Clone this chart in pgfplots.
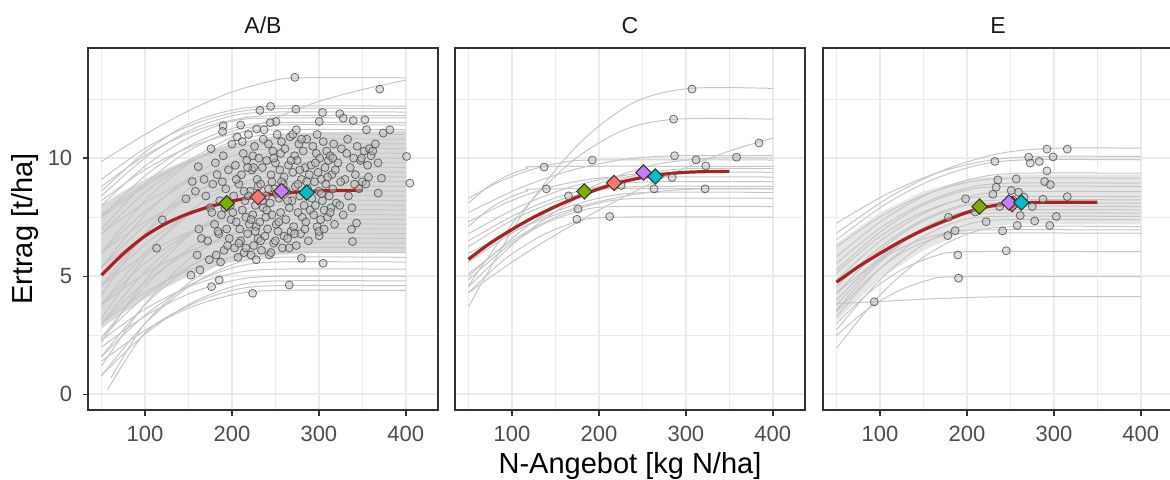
\documentclass[border=0pt]{standalone}
\usepackage{fontspec}
\setmainfont{Liberation Sans}
\usepackage{pgfplots}
\pgfplotsset{compat=1.18}
\definecolor{gridc}{HTML}{EBEBEB}
\definecolor{framec}{HTML}{333333}
\definecolor{tickc}{HTML}{4D4D4D}
\definecolor{stripc}{HTML}{1A1A1A}
\definecolor{curvec}{HTML}{C6C6C6}
\definecolor{bandc}{HTML}{D9D9D9}
\definecolor{bandlc}{HTML}{E6E6E6}
\definecolor{fitc}{HTML}{A82424}
\definecolor{ggreen}{HTML}{7CAE00}
\definecolor{gred}{HTML}{F8766D}
\definecolor{gpurple}{HTML}{C77CFF}
\definecolor{gcyan}{HTML}{00BFC4}

\pgfplotsset{
  facet/.style={
    scale only axis, width=175pt, height=181pt,
    xmin=34.5, xmax=437, ymin=-0.66, ymax=14.66,
    xtick={100,200,300,400}, ytick={0,5,10},
    minor xtick={50,150,250,350}, minor ytick={2.5,7.5,12.5},
    grid=both,
    major grid style={gridc, line width=1pt},
    minor grid style={gridc, line width=0.5pt},
    axis line style={framec, line width=0.7pt},
    tick align=outside, xtick pos=lower, ytick pos=left,
    major tick length=2.75pt, minor tick length=0pt,
    tick style={framec, line width=0.7pt},
    /pgf/number format/assume math mode=true,
    tick label style={font=\fontsize{11}{13}\selectfont, text=tickc},
    xticklabel style={yshift=-2pt},
    yticklabel style={xshift=-1.6pt},
    anchor=south west,
  },
  gc/.style={curvec, line width=0.5pt, smooth, tension=0.5, forget plot},
  pts/.style={only marks, mark=*, mark size=2pt, forget plot,
    mark options={fill=black!25, fill opacity=0.5, draw=black!75, draw opacity=0.75, line width=0.4pt}},
  fit/.style={fitc, line width=1.6pt, smooth, tension=0.5, forget plot},
  dia/.style={only marks, mark=square*, mark size=2.7pt, forget plot,
    mark options={rotate=45, fill=#1, draw=black!80, line width=0.5pt}},
}
% one grey site curve: values at N = 50,100,150,200 and the plateau from 250 on
\newcommand{\gc}[5]{\addplot[gc] coordinates {(50,#1)(100,#2)(150,#3)(200,#4)(250,#5)(400,#5)};}

\begin{document}
\begin{tikzpicture}
% ---------------- A/B ----------------
\begin{axis}[facet, at={(44pt,34.5pt)}]
\addplot[fill=bandc, draw=none, forget plot] coordinates
  {(50,8.0)(75,8.6)(100,9.1)(125,9.55)(150,9.95)(175,10.3)(200,10.6)(250,10.95)(300,11.1)(400,11.15)
   (400,6.0)(300,6.0)(250,5.9)(200,5.6)(175,5.35)(150,5.0)(125,4.55)(100,4.05)(75,3.45)(50,2.8)};
\gc{1.4}{2.71}{3.65}{4.21}{4.4}
\addplot[gc] coordinates {(57,0.2)(100,2.6)(150,3.75)(200,4.4)(250,4.6)(400,4.6)};
\gc{0.8}{2.55}{3.8}{4.55}{4.8}
\gc{2.0}{3.31}{4.25}{4.81}{5.0}
\gc{2.3}{3.61}{4.55}{5.11}{5.3}
\gc{1.6}{3.35}{4.6}{5.35}{5.6}
\gc{0.8}{2.99}{4.55}{5.49}{5.8}
\gc{3.0}{4.31}{5.25}{5.81}{6.0}
\addplot[gc] coordinates {(61,0.7)(100,3.0)(150,4.7)(200,5.82)(250,6.2)(400,6.2)};
\gc{2.4}{4.15}{5.4}{6.15}{6.4}
\gc{1.6}{3.79}{5.35}{6.29}{6.6}
\gc{3.8}{5.11}{6.05}{6.61}{6.8}
\gc{3.0}{4.75}{6.0}{6.75}{7.0}
\gc{1.2}{3.82}{5.7}{6.82}{7.2}
\gc{2.4}{4.59}{6.15}{7.09}{7.4}
\gc{4.6}{5.91}{6.85}{7.41}{7.6}
\gc{3.8}{5.55}{6.8}{7.55}{7.8}
\gc{3.0}{5.19}{6.75}{7.69}{8.0}
\gc{2.2}{4.82}{6.7}{7.82}{8.2}
\gc{5.4}{6.71}{7.65}{8.21}{8.4}
\gc{4.6}{6.35}{7.6}{8.35}{8.6}
\gc{3.8}{5.99}{7.55}{8.49}{8.8}
\gc{6.0}{7.31}{8.25}{8.81}{9.0}
\gc{3.2}{5.82}{7.7}{8.82}{9.2}
\gc{5.4}{7.15}{8.4}{9.15}{9.4}
\gc{4.6}{6.79}{8.35}{9.29}{9.6}
\gc{6.8}{8.11}{9.05}{9.61}{9.8}
\gc{6.0}{7.75}{9.0}{9.75}{10.0}
\gc{4.2}{6.82}{8.7}{9.82}{10.2}
\gc{5.4}{7.59}{9.15}{10.09}{10.4}
\gc{7.6}{8.91}{9.85}{10.41}{10.6}
\gc{6.8}{8.55}{9.8}{10.55}{10.8}
\gc{6.0}{8.19}{9.75}{10.69}{11.0}
\gc{8.2}{9.51}{10.45}{11.01}{11.2}
\gc{7.0}{8.92}{10.3}{11.13}{11.4}
\gc{7.5}{9.25}{10.5}{11.25}{11.5}
\gc{8.0}{9.66}{10.85}{11.56}{11.7}
\gc{8.8}{10.11}{11.05}{11.61}{11.8}
\gc{8.4}{10.0}{11.15}{11.79}{11.95}
\gc{9.1}{10.41}{11.35}{11.91}{12.1}
\gc{8.6}{10.25}{11.45}{12.03}{12.2}
\addplot[gc] coordinates {(50,9.85)(100,11.0)(150,12.0)(200,12.8)(250,13.3)(280,13.4)(400,13.4)};
\addplot[gc] coordinates {(50,7.5)(100,8.8)(150,9.9)(200,10.9)(250,11.7)(300,12.4)(350,12.9)(400,13.3)};
\addplot[pts] coordinates {
 (272.4,13.42)(370,12.92)(232.2,12.02)(244.5,12.19)(273.6,12.07)(304.2,11.93)(324.1,11.88)(328,11.69)
 (339.5,11.59)(352.9,11.62)(354.8,11.2)(381.6,11.2)(373.9,11.06)(190,11.37)(189.3,11.13)(228.4,11.23)
 (250.6,11.55)(300.4,11.55)(400.8,10.07)(404.6,8.94)(368.2,8.52)(372,9.15)(113.4,6.19)(119.9,7.39)
 (147.1,8.28)(154.4,9.01)(161.3,9.64)(152.9,5.05)(163.2,5.27)(176.6,4.56)(185.4,4.84)(223.8,4.28)
 (265.9,4.63)(280,5.76)(304.9,5.55)(300.4,6.71)(338.7,6.47)(337.5,6.99)(343.3,7.25)
 (172,6.5)(175,7.9)(178,8.9)(180,7.2)(182,5.9)(183,9.3)(185,6.8)(186,8.2)(188,7.6)(190,10.1)
 (191,6.1)(193,8.7)(194,7.0)(196,9.5)(197,6.6)(198,8.0)(199,7.4)(200,10.6)(168,9.1)(170,8.4)
 (174,5.7)(177,7.7)(181,9.8)(187,5.6)(189,9.0)(192,7.9)(195,6.3)(165,6.6)(162,7.0)(160,5.9)
 (158,8.6)(176,10.4)(184,6.9)
 (202,8.4)(203,6.2)(204,9.7)(205,7.3)(206,10.9)(207,5.8)(208,8.9)(209,7.0)(210,6.5)(211,9.3)
 (212,7.8)(213,10.2)(214,6.0)(215,8.2)(216,7.5)(217,9.9)(218,6.8)(219,11.0)(220,7.2)(221,8.6)
 (222,5.9)(223,9.5)(224,7.6)(225,6.3)(226,10.5)(227,8.0)(228,7.1)(229,9.1)(230,6.6)(201,7.7)
 (205,9.1)(208,6.4)(212,10.7)(216,6.2)(219,8.4)(222,7.4)(225,9.6)(228,5.7)(230,8.8)(210,11.4)
 (214,8.6)(218,9.6)(224,10.1)(227,6.9)
 (231,10.0)(232,7.3)(233,8.9)(234,6.1)(235,9.6)(236,7.9)(237,11.2)(238,6.7)(239,8.4)(240,9.9)
 (241,7.0)(242,10.6)(243,5.9)(244,8.1)(245,9.3)(246,7.6)(247,10.3)(248,6.4)(249,8.7)(250,9.8)
 (251,7.2)(252,11.0)(253,6.9)(254,8.3)(255,9.5)(256,7.7)(257,10.7)(258,6.2)(259,8.9)(260,9.2)
 (233,6.5)(236,10.8)(239,7.5)(242,8.7)(245,6.0)(248,10.0)(251,8.5)(254,7.3)(257,9.0)(260,6.7)
 (235,8.2)(244,11.5)(250,6.5)(256,10.2)(240,7.8)(246,9.0)
 (261,10.4)(262,7.4)(263,8.6)(264,6.6)(265,9.7)(266,7.9)(267,10.9)(268,6.9)(269,8.2)(270,9.4)
 (271,7.1)(272,10.1)(273,8.8)(274,6.3)(275,9.9)(276,7.7)(277,10.6)(278,8.4)(279,6.8)(280,9.1)
 (281,7.5)(282,10.3)(283,8.0)(284,9.6)(285,7.3)(286,10.8)(287,8.7)(288,6.5)(289,9.3)(290,7.8)
 (264,8.2)(268,9.9)(272,6.8)(276,8.9)(280,10.8)(284,7.0)(288,8.5)(270,11.0)(278,9.5)(286,9.0)
 (266,6.2)(274,11.2)
 (291,9.7)(292,8.3)(293,10.5)(294,7.6)(295,9.0)(296,8.0)(297,10.2)(298,7.1)(299,9.4)(300,8.6)
 (301,10.0)(302,7.4)(303,9.1)(304,8.2)(305,10.7)(306,7.8)(307,9.6)(308,8.9)(309,10.3)(310,7.5)
 (311,9.9)(312,8.4)(313,10.1)(314,7.9)(315,9.3)(316,8.7)(317,10.6)(318,7.2)(319,9.5)(320,8.1)
 (296,9.8)(303,8.5)(310,9.2)(316,10.0)(300,6.9)(306,7.0)(313,7.7)(298,11.0)
 (322,9.8)(324,8.0)(326,10.4)(328,7.6)(330,9.1)(332,10.2)(334,8.4)(336,9.6)(338,7.9)(340,10.0)
 (342,9.3)(344,10.5)(346,8.7)(348,9.9)(350,9.0)(352,10.3)(354,8.9)(356,9.7)(358,10.4)(360,10.1)
 (325,9.0)(333,10.8)(341,8.9)(349,10.0)(357,9.2)(362,10.3)(365,10.6)(368,9.8)
};
\addplot[fit] coordinates {(50,5.05)(75,5.95)(100,6.7)(125,7.25)(150,7.65)(175,7.95)(200,8.18)
  (225,8.35)(250,8.48)(275,8.56)(300,8.61)(325,8.63)(350,8.64)};
\addplot[dia=ggreen] coordinates {(194,8.09)};
\addplot[dia=gred] coordinates {(230,8.35)};
\addplot[dia=gpurple] coordinates {(257,8.61)};
\addplot[dia=gcyan] coordinates {(286,8.54)};
\end{axis}

% ---------------- C ----------------
\begin{axis}[facet, at={(227.5pt,34.5pt)}, yticklabels={}, ytick style={draw=none}]
\addplot[gc] coordinates {(50,3.7)(114,7.75)(178,10.64)(241,12.37)(305,12.95)(400,12.95)};
\addplot[gc] coordinates {(50,4.6)(110,7.68)(170,9.89)(230,11.21)(290,11.65)(400,11.65)};
\addplot[gc] coordinates {(50,4.3)(100,5.6)(150,6.75)(200,7.8)(250,8.75)(300,9.6)(350,10.3)(400,10.85)};
\addplot[gc] coordinates {(50,8.3)(86,9.01)(123,9.52)(159,9.82)(195,9.92)(400,9.92)};
\addplot[gc] coordinates {(50,8.1)(72,8.78)(95,9.26)(117,9.55)(140,9.65)(400,9.65)};
\addplot[gc] coordinates {(50,7.7)(110,8.75)(170,9.5)(230,9.95)(290,10.1)(400,10.1)};
\addplot[gc] coordinates {(50,5.0)(120,7.19)(190,8.75)(260,9.69)(330,10.0)(400,10.0)};
\addplot[gc] coordinates {(50,7.3)(95,8.13)(140,8.73)(185,9.08)(230,9.2)(400,9.2)};
\addplot[gc] coordinates {(50,7.1)(72,7.8)(95,8.3)(117,8.6)(140,8.7)(400,8.7)};
\addplot[gc] coordinates {(50,6.8)(108,7.94)(165,8.75)(223,9.24)(280,9.4)(400,9.4)};
\addplot[gc] coordinates {(50,6.5)(103,7.59)(155,8.38)(208,8.84)(260,9.0)(400,9.0)};
\addplot[gc] coordinates {(50,6.25)(100,7.37)(150,8.16)(200,8.64)(250,8.8)(400,8.8)};
\addplot[gc] coordinates {(50,5.6)(103,6.89)(155,7.81)(208,8.37)(260,8.55)(400,8.55)};
\addplot[gc] coordinates {(50,5.1)(100,6.5)(150,7.5)(200,8.1)(250,8.3)(400,8.3)};
\addplot[gc] coordinates {(50,4.85)(93,6.21)(135,7.18)(178,7.76)(220,7.95)(400,7.95)};
\addplot[gc] coordinates {(50,4.3)(91,5.7)(133,6.7)(174,7.3)(215,7.5)(400,7.5)};
\addplot[gc] coordinates {(50,5.97)(118,7.16)(185,8.02)(253,8.53)(320,8.7)(400,8.7)};
\addplot[gc] coordinates {(50,4.55)(113,6.74)(175,8.3)(238,9.24)(300,9.55)(400,9.55)};
\addplot[pts] coordinates {
 (307,12.92)(285.9,11.65)(384.1,10.64)(287,10.1)(358.3,10.04)(311.7,9.93)(192.4,9.92)(137,9.62)
 (322.9,9.67)(139.6,8.7)(165,8.4)(225.5,8.84)(284.2,9.18)(263.4,8.7)(322.1,8.7)(175.9,7.85)
 (174.7,7.41)(212.4,7.53)
};
\addplot[fit] coordinates {(50,5.72)(75,6.4)(100,6.98)(125,7.5)(150,7.95)(175,8.35)(200,8.7)
  (225,8.98)(250,9.18)(275,9.32)(300,9.4)(325,9.43)(350,9.44)};
\addplot[dia=ggreen] coordinates {(183.2,8.59)};
\addplot[dia=gred] coordinates {(217.4,8.95)};
\addplot[dia=gpurple] coordinates {(251.3,9.39)};
\addplot[dia=gcyan] coordinates {(264.8,9.22)};
\end{axis}

% ---------------- E ----------------
\begin{axis}[facet, at={(411.5pt,34.5pt)}, yticklabels={}, ytick style={draw=none}]
\addplot[fill=bandlc, draw=none, forget plot] coordinates
  {(50,6.4)(100,7.7)(150,8.6)(200,9.1)(250,9.3)(400,9.3)
   (400,7.2)(250,7.2)(200,6.9)(150,6.1)(100,4.9)(50,3.1)};
\addplot[gc] coordinates {(50,6.82)(113,8.4)(175,9.52)(238,10.2)(300,10.42)(400,10.42)};
\addplot[gc] coordinates {(50,7.25)(108,8.48)(165,9.37)(223,9.89)(280,10.07)(400,10.07)};
\addplot[gc] coordinates {(50,6.54)(105,8.02)(160,9.08)(215,9.72)(270,9.93)(400,9.93)};
\addplot[gc] coordinates {(50,5.83)(103,7.37)(155,8.48)(208,9.14)(260,9.36)(400,9.36)};
\addplot[gc] coordinates {(50,6.25)(100,7.52)(150,8.43)(200,8.97)(250,9.15)(400,9.15)};
\addplot[gc] coordinates {(50,5.55)(100,7.03)(150,8.09)(200,8.73)(250,8.94)(400,8.94)};
\addplot[gc] coordinates {(50,5.27)(98,6.81)(145,7.92)(193,8.58)(240,8.8)(400,8.8)};
\addplot[gc] coordinates {(50,4.84)(100,6.48)(150,7.65)(200,8.35)(250,8.58)(400,8.58)};
\addplot[gc] coordinates {(50,5.13)(95,6.55)(140,7.56)(185,8.17)(230,8.37)(400,8.37)};
\addplot[gc] coordinates {(50,4.56)(98,6.17)(145,7.31)(193,8.0)(240,8.23)(400,8.23)};
\addplot[gc] coordinates {(50,4.28)(95,5.95)(140,7.14)(185,7.85)(230,8.09)(400,8.09)};
\addplot[gc] coordinates {(50,4.0)(98,5.73)(145,6.96)(193,7.7)(240,7.95)(400,7.95)};
\addplot[gc] coordinates {(50,3.78)(95,5.54)(140,6.8)(185,7.56)(230,7.81)(400,7.81)};
\addplot[gc] coordinates {(50,3.57)(93,5.36)(135,6.65)(178,7.41)(220,7.67)(400,7.67)};
\addplot[gc] coordinates {(50,3.29)(95,5.15)(140,6.47)(185,7.27)(230,7.53)(400,7.53)};
\addplot[gc] coordinates {(50,2.73)(98,4.77)(145,6.23)(193,7.1)(240,7.39)(400,7.39)};
\addplot[gc] coordinates {(50,1.95)(100,4.2)(150,5.81)(200,6.78)(250,7.1)(400,7.1)};
\addplot[gc] coordinates {(50,4.28)(90,5.45)(130,6.29)(170,6.79)(210,6.96)(400,6.96)};
\addplot[gc] coordinates {(50,3.5)(88,4.95)(125,5.99)(163,6.61)(200,6.82)(400,6.82)};
\addplot[gc] coordinates {(50,3.0)(88,4.33)(125,5.28)(163,5.85)(200,6.04)(400,6.04)};
\addplot[gc] coordinates {(50,2.5)(85,3.58)(120,4.36)(155,4.83)(190,4.98)(400,4.98)};
\addplot[gc] coordinates {(50,3.85)(93,3.92)(150,4.03)(200,4.1)(260,4.14)(400,4.14)};
\addplot[pts] coordinates {
 (93.5,3.92)(190.3,4.92)(189.5,5.9)(245.2,6.08)(178,6.72)(186.4,6.93)(178.8,7.5)(222.1,7.31)
 (241,6.92)(257.8,7.15)(261.3,7.57)(277.9,7.34)(295.2,7.15)(302.8,7.53)(275.1,7.95)(287.4,8.26)
 (315.4,8.37)(198.4,8.28)(209.4,7.72)(237.6,7.95)(229.8,8.47)(233.6,8.77)(235.6,9.08)(250.9,8.63)
 (259.4,8.56)(265.6,8.35)(256.7,9.12)(289.4,9.01)(295.9,8.88)(292,9.46)(232.1,9.86)(271,10.04)
 (272.8,9.79)(283.2,9.86)(299,10.05)(292,10.38)(315.4,10.38)(252.9,8.23)
};
\addplot[fit] coordinates {(50,4.75)(75,5.4)(100,5.97)(125,6.5)(150,6.96)(175,7.35)(200,7.7)
  (225,7.95)(250,8.08)(275,8.12)(300,8.13)(350,8.13)};
\addplot[dia=ggreen] coordinates {(214.5,7.95)};
\addplot[dia=gred] coordinates {(252,8.05)};
\addplot[dia=gpurple] coordinates {(248.3,8.12)};
\addplot[dia=gcyan] coordinates {(262.5,8.12)};
\end{axis}

% strip labels and axis titles
\node[anchor=base, text=stripc, font=\fontsize{11.5}{13}\selectfont] at (131.5pt,223pt) {A/B};
\node[anchor=base, text=stripc, font=\fontsize{11.5}{13}\selectfont] at (315pt,223pt) {C};
\node[anchor=base, text=stripc, font=\fontsize{11.5}{13}\selectfont] at (499pt,223pt) {E};
\node[anchor=base, rotate=90, font=\fontsize{14.5}{17}\selectfont] at (16.5pt,125pt) {Ertrag [t/ha]};
\node[anchor=base, font=\fontsize{14.5}{17}\selectfont] at (315pt,3pt) {N-Angebot [kg N/ha]};

\pgfresetboundingbox
\path[use as bounding box] (0,0) rectangle (585pt,239.5pt);
\end{tikzpicture}
\end{document}
